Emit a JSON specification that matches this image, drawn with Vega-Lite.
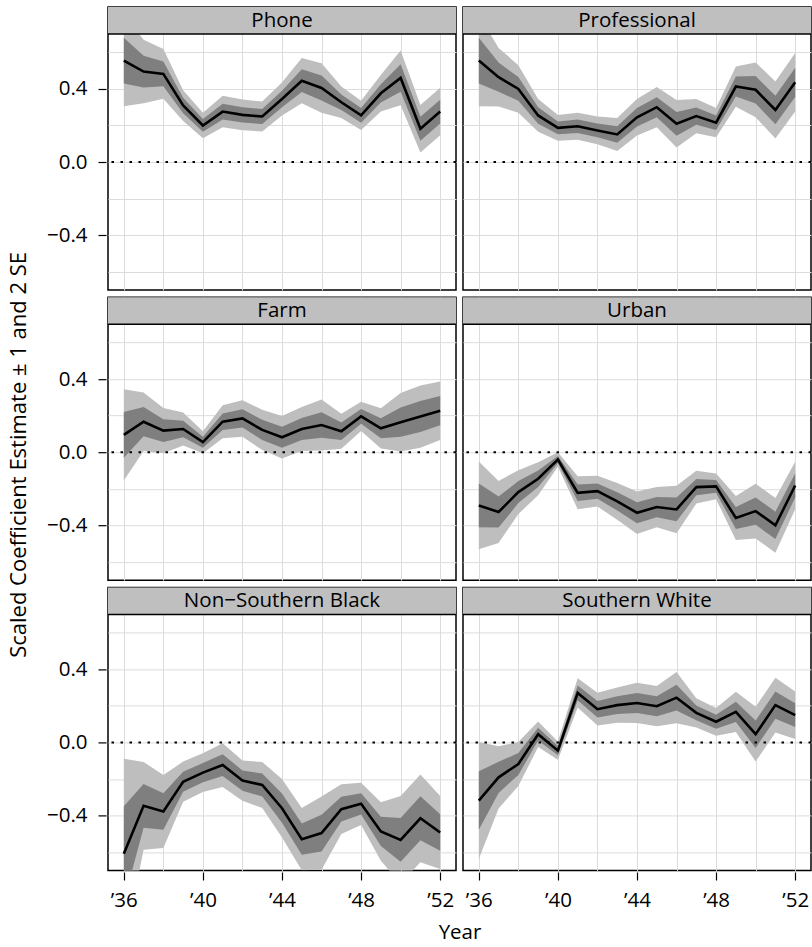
{
  "$schema": "https://vega.github.io/schema/vega-lite/v6.json",
  "background": "white",
  "padding": {"left": 8, "top": 6, "right": 2, "bottom": 5},
  "title": {"text": "Scaled Coefficient Estimate ± 1 and 2 SE", "orient": "left", "anchor": "middle", "fontSize": 22, "fontWeight": "normal", "color": "black", "font": "Open Sans", "offset": 15, "dx": 20},
  "config": {
    "font": "Open Sans",
    "view": {"stroke": "black", "strokeWidth": 1.5},
    "axis": {"labelColor": "black", "titleColor": "black", "titleFontWeight": "normal", "labelFontSize": 20.5, "titleFontSize": 20.5}
  },
  "data": {"values": [
    {"panel": "Phone", "year": 1936, "est": 0.555, "lo2": 0.305, "lo1": 0.43, "hi1": 0.68, "hi2": 0.805},
    {"panel": "Phone", "year": 1937, "est": 0.495, "lo2": 0.321, "lo1": 0.408, "hi1": 0.582, "hi2": 0.669},
    {"panel": "Phone", "year": 1938, "est": 0.482, "lo2": 0.346, "lo1": 0.414, "hi1": 0.55, "hi2": 0.618},
    {"panel": "Phone", "year": 1939, "est": 0.309, "lo2": 0.225, "lo1": 0.267, "hi1": 0.351, "hi2": 0.393},
    {"panel": "Phone", "year": 1940, "est": 0.2, "lo2": 0.13, "lo1": 0.165, "hi1": 0.235, "hi2": 0.27},
    {"panel": "Phone", "year": 1941, "est": 0.276, "lo2": 0.19, "lo1": 0.233, "hi1": 0.319, "hi2": 0.362},
    {"panel": "Phone", "year": 1942, "est": 0.258, "lo2": 0.174, "lo1": 0.216, "hi1": 0.3, "hi2": 0.342},
    {"panel": "Phone", "year": 1943, "est": 0.249, "lo2": 0.167, "lo1": 0.208, "hi1": 0.29, "hi2": 0.331},
    {"panel": "Phone", "year": 1944, "est": 0.345, "lo2": 0.255, "lo1": 0.3, "hi1": 0.39, "hi2": 0.435},
    {"panel": "Phone", "year": 1945, "est": 0.445, "lo2": 0.321, "lo1": 0.383, "hi1": 0.507, "hi2": 0.569},
    {"panel": "Phone", "year": 1946, "est": 0.405, "lo2": 0.269, "lo1": 0.337, "hi1": 0.473, "hi2": 0.541},
    {"panel": "Phone", "year": 1947, "est": 0.327, "lo2": 0.241, "lo1": 0.284, "hi1": 0.37, "hi2": 0.413},
    {"panel": "Phone", "year": 1948, "est": 0.255, "lo2": 0.175, "lo1": 0.215, "hi1": 0.295, "hi2": 0.335},
    {"panel": "Phone", "year": 1949, "est": 0.376, "lo2": 0.276, "lo1": 0.326, "hi1": 0.426, "hi2": 0.476},
    {"panel": "Phone", "year": 1950, "est": 0.46, "lo2": 0.31, "lo1": 0.385, "hi1": 0.535, "hi2": 0.61},
    {"panel": "Phone", "year": 1951, "est": 0.182, "lo2": 0.052, "lo1": 0.117, "hi1": 0.247, "hi2": 0.312},
    {"panel": "Phone", "year": 1952, "est": 0.276, "lo2": 0.146, "lo1": 0.211, "hi1": 0.341, "hi2": 0.406},

    {"panel": "Professional", "year": 1936, "est": 0.555, "lo2": 0.305, "lo1": 0.43, "hi1": 0.68, "hi2": 0.805},
    {"panel": "Professional", "year": 1937, "est": 0.464, "lo2": 0.304, "lo1": 0.384, "hi1": 0.544, "hi2": 0.624},
    {"panel": "Professional", "year": 1938, "est": 0.4, "lo2": 0.27, "lo1": 0.335, "hi1": 0.465, "hi2": 0.53},
    {"panel": "Professional", "year": 1939, "est": 0.255, "lo2": 0.165, "lo1": 0.21, "hi1": 0.3, "hi2": 0.345},
    {"panel": "Professional", "year": 1940, "est": 0.187, "lo2": 0.117, "lo1": 0.152, "hi1": 0.222, "hi2": 0.257},
    {"panel": "Professional", "year": 1941, "est": 0.196, "lo2": 0.122, "lo1": 0.159, "hi1": 0.233, "hi2": 0.27},
    {"panel": "Professional", "year": 1942, "est": 0.173, "lo2": 0.097, "lo1": 0.135, "hi1": 0.211, "hi2": 0.249},
    {"panel": "Professional", "year": 1943, "est": 0.151, "lo2": 0.061, "lo1": 0.106, "hi1": 0.196, "hi2": 0.241},
    {"panel": "Professional", "year": 1944, "est": 0.245, "lo2": 0.145, "lo1": 0.195, "hi1": 0.295, "hi2": 0.345},
    {"panel": "Professional", "year": 1945, "est": 0.3, "lo2": 0.19, "lo1": 0.245, "hi1": 0.355, "hi2": 0.41},
    {"panel": "Professional", "year": 1946, "est": 0.209, "lo2": 0.079, "lo1": 0.144, "hi1": 0.274, "hi2": 0.339},
    {"panel": "Professional", "year": 1947, "est": 0.251, "lo2": 0.157, "lo1": 0.204, "hi1": 0.298, "hi2": 0.345},
    {"panel": "Professional", "year": 1948, "est": 0.215, "lo2": 0.135, "lo1": 0.175, "hi1": 0.255, "hi2": 0.295},
    {"panel": "Professional", "year": 1949, "est": 0.413, "lo2": 0.303, "lo1": 0.358, "hi1": 0.468, "hi2": 0.523},
    {"panel": "Professional", "year": 1950, "est": 0.395, "lo2": 0.245, "lo1": 0.32, "hi1": 0.47, "hi2": 0.545},
    {"panel": "Professional", "year": 1951, "est": 0.285, "lo2": 0.129, "lo1": 0.207, "hi1": 0.363, "hi2": 0.441},
    {"panel": "Professional", "year": 1952, "est": 0.436, "lo2": 0.276, "lo1": 0.356, "hi1": 0.516, "hi2": 0.596},

    {"panel": "Farm", "year": 1936, "est": 0.095, "lo2": -0.155, "lo1": -0.03, "hi1": 0.22, "hi2": 0.345},
    {"panel": "Farm", "year": 1937, "est": 0.167, "lo2": 0.007, "lo1": 0.087, "hi1": 0.247, "hi2": 0.327},
    {"panel": "Farm", "year": 1938, "est": 0.118, "lo2": -0.006, "lo1": 0.056, "hi1": 0.18, "hi2": 0.242},
    {"panel": "Farm", "year": 1939, "est": 0.127, "lo2": 0.037, "lo1": 0.082, "hi1": 0.172, "hi2": 0.217},
    {"panel": "Farm", "year": 1940, "est": 0.055, "lo2": -0.005, "lo1": 0.025, "hi1": 0.085, "hi2": 0.115},
    {"panel": "Farm", "year": 1941, "est": 0.167, "lo2": 0.077, "lo1": 0.122, "hi1": 0.212, "hi2": 0.257},
    {"panel": "Farm", "year": 1942, "est": 0.185, "lo2": 0.085, "lo1": 0.135, "hi1": 0.235, "hi2": 0.285},
    {"panel": "Farm", "year": 1943, "est": 0.122, "lo2": 0.012, "lo1": 0.067, "hi1": 0.177, "hi2": 0.232},
    {"panel": "Farm", "year": 1944, "est": 0.082, "lo2": -0.034, "lo1": 0.024, "hi1": 0.14, "hi2": 0.198},
    {"panel": "Farm", "year": 1945, "est": 0.127, "lo2": 0.007, "lo1": 0.067, "hi1": 0.187, "hi2": 0.247},
    {"panel": "Farm", "year": 1946, "est": 0.149, "lo2": 0.009, "lo1": 0.079, "hi1": 0.219, "hi2": 0.289},
    {"panel": "Farm", "year": 1947, "est": 0.115, "lo2": 0.019, "lo1": 0.067, "hi1": 0.163, "hi2": 0.211},
    {"panel": "Farm", "year": 1948, "est": 0.196, "lo2": 0.116, "lo1": 0.156, "hi1": 0.236, "hi2": 0.276},
    {"panel": "Farm", "year": 1949, "est": 0.131, "lo2": 0.021, "lo1": 0.076, "hi1": 0.186, "hi2": 0.241},
    {"panel": "Farm", "year": 1950, "est": 0.164, "lo2": 0.004, "lo1": 0.084, "hi1": 0.244, "hi2": 0.324},
    {"panel": "Farm", "year": 1951, "est": 0.195, "lo2": 0.025, "lo1": 0.11, "hi1": 0.28, "hi2": 0.365},
    {"panel": "Farm", "year": 1952, "est": 0.227, "lo2": 0.067, "lo1": 0.147, "hi1": 0.307, "hi2": 0.387},

    {"panel": "Urban", "year": 1936, "est": -0.291, "lo2": -0.531, "lo1": -0.411, "hi1": -0.171, "hi2": -0.051},
    {"panel": "Urban", "year": 1937, "est": -0.327, "lo2": -0.497, "lo1": -0.412, "hi1": -0.242, "hi2": -0.157},
    {"panel": "Urban", "year": 1938, "est": -0.218, "lo2": -0.338, "lo1": -0.278, "hi1": -0.158, "hi2": -0.098},
    {"panel": "Urban", "year": 1939, "est": -0.145, "lo2": -0.235, "lo1": -0.19, "hi1": -0.1, "hi2": -0.055},
    {"panel": "Urban", "year": 1940, "est": -0.04, "lo2": -0.08, "lo1": -0.06, "hi1": -0.02, "hi2": 0.0},
    {"panel": "Urban", "year": 1941, "est": -0.222, "lo2": -0.312, "lo1": -0.267, "hi1": -0.177, "hi2": -0.132},
    {"panel": "Urban", "year": 1942, "est": -0.213, "lo2": -0.297, "lo1": -0.255, "hi1": -0.171, "hi2": -0.129},
    {"panel": "Urban", "year": 1943, "est": -0.269, "lo2": -0.369, "lo1": -0.319, "hi1": -0.219, "hi2": -0.169},
    {"panel": "Urban", "year": 1944, "est": -0.331, "lo2": -0.447, "lo1": -0.389, "hi1": -0.273, "hi2": -0.215},
    {"panel": "Urban", "year": 1945, "est": -0.3, "lo2": -0.41, "lo1": -0.355, "hi1": -0.245, "hi2": -0.19},
    {"panel": "Urban", "year": 1946, "est": -0.313, "lo2": -0.443, "lo1": -0.378, "hi1": -0.248, "hi2": -0.183},
    {"panel": "Urban", "year": 1947, "est": -0.191, "lo2": -0.281, "lo1": -0.236, "hi1": -0.146, "hi2": -0.101},
    {"panel": "Urban", "year": 1948, "est": -0.187, "lo2": -0.257, "lo1": -0.222, "hi1": -0.152, "hi2": -0.117},
    {"panel": "Urban", "year": 1949, "est": -0.36, "lo2": -0.48, "lo1": -0.42, "hi1": -0.3, "hi2": -0.24},
    {"panel": "Urban", "year": 1950, "est": -0.322, "lo2": -0.472, "lo1": -0.397, "hi1": -0.247, "hi2": -0.172},
    {"panel": "Urban", "year": 1951, "est": -0.4, "lo2": -0.55, "lo1": -0.475, "hi1": -0.325, "hi2": -0.25},
    {"panel": "Urban", "year": 1952, "est": -0.182, "lo2": -0.312, "lo1": -0.247, "hi1": -0.117, "hi2": -0.052},

    {"panel": "Non−Southern Black", "year": 1936, "est": -0.609, "lo2": -1.129, "lo1": -0.869, "hi1": -0.349, "hi2": -0.089},
    {"panel": "Non−Southern Black", "year": 1937, "est": -0.347, "lo2": -0.587, "lo1": -0.467, "hi1": -0.227, "hi2": -0.107},
    {"panel": "Non−Southern Black", "year": 1938, "est": -0.378, "lo2": -0.578, "lo1": -0.478, "hi1": -0.278, "hi2": -0.178},
    {"panel": "Non−Southern Black", "year": 1939, "est": -0.215, "lo2": -0.325, "lo1": -0.27, "hi1": -0.16, "hi2": -0.105},
    {"panel": "Non−Southern Black", "year": 1940, "est": -0.165, "lo2": -0.271, "lo1": -0.218, "hi1": -0.112, "hi2": -0.059},
    {"panel": "Non−Southern Black", "year": 1941, "est": -0.124, "lo2": -0.244, "lo1": -0.184, "hi1": -0.064, "hi2": -0.004},
    {"panel": "Non−Southern Black", "year": 1942, "est": -0.209, "lo2": -0.319, "lo1": -0.264, "hi1": -0.154, "hi2": -0.099},
    {"panel": "Non−Southern Black", "year": 1943, "est": -0.233, "lo2": -0.359, "lo1": -0.296, "hi1": -0.17, "hi2": -0.107},
    {"panel": "Non−Southern Black", "year": 1944, "est": -0.36, "lo2": -0.52, "lo1": -0.44, "hi1": -0.28, "hi2": -0.2},
    {"panel": "Non−Southern Black", "year": 1945, "est": -0.529, "lo2": -0.699, "lo1": -0.614, "hi1": -0.444, "hi2": -0.359},
    {"panel": "Non−Southern Black", "year": 1946, "est": -0.496, "lo2": -0.696, "lo1": -0.596, "hi1": -0.396, "hi2": -0.296},
    {"panel": "Non−Southern Black", "year": 1947, "est": -0.365, "lo2": -0.501, "lo1": -0.433, "hi1": -0.297, "hi2": -0.229},
    {"panel": "Non−Southern Black", "year": 1948, "est": -0.336, "lo2": -0.452, "lo1": -0.394, "hi1": -0.278, "hi2": -0.22},
    {"panel": "Non−Southern Black", "year": 1949, "est": -0.487, "lo2": -0.647, "lo1": -0.567, "hi1": -0.407, "hi2": -0.327},
    {"panel": "Non−Southern Black", "year": 1950, "est": -0.533, "lo2": -0.773, "lo1": -0.653, "hi1": -0.413, "hi2": -0.293},
    {"panel": "Non−Southern Black", "year": 1951, "est": -0.415, "lo2": -0.655, "lo1": -0.535, "hi1": -0.295, "hi2": -0.175},
    {"panel": "Non−Southern Black", "year": 1952, "est": -0.493, "lo2": -0.693, "lo1": -0.593, "hi1": -0.393, "hi2": -0.293},

    {"panel": "Southern White", "year": 1936, "est": -0.318, "lo2": -0.638, "lo1": -0.478, "hi1": -0.158, "hi2": 0.002},
    {"panel": "Southern White", "year": 1937, "est": -0.191, "lo2": -0.361, "lo1": -0.276, "hi1": -0.106, "hi2": -0.021},
    {"panel": "Southern White", "year": 1938, "est": -0.118, "lo2": -0.238, "lo1": -0.178, "hi1": -0.058, "hi2": 0.002},
    {"panel": "Southern White", "year": 1939, "est": 0.045, "lo2": -0.025, "lo1": 0.01, "hi1": 0.08, "hi2": 0.115},
    {"panel": "Southern White", "year": 1940, "est": -0.045, "lo2": -0.095, "lo1": -0.07, "hi1": -0.02, "hi2": 0.005},
    {"panel": "Southern White", "year": 1941, "est": 0.271, "lo2": 0.191, "lo1": 0.231, "hi1": 0.311, "hi2": 0.351},
    {"panel": "Southern White", "year": 1942, "est": 0.182, "lo2": 0.092, "lo1": 0.137, "hi1": 0.227, "hi2": 0.272},
    {"panel": "Southern White", "year": 1943, "est": 0.204, "lo2": 0.108, "lo1": 0.156, "hi1": 0.252, "hi2": 0.3},
    {"panel": "Southern White", "year": 1944, "est": 0.216, "lo2": 0.106, "lo1": 0.161, "hi1": 0.271, "hi2": 0.326},
    {"panel": "Southern White", "year": 1945, "est": 0.198, "lo2": 0.088, "lo1": 0.143, "hi1": 0.253, "hi2": 0.308},
    {"panel": "Southern White", "year": 1946, "est": 0.245, "lo2": 0.105, "lo1": 0.175, "hi1": 0.315, "hi2": 0.385},
    {"panel": "Southern White", "year": 1947, "est": 0.162, "lo2": 0.082, "lo1": 0.122, "hi1": 0.202, "hi2": 0.242},
    {"panel": "Southern White", "year": 1948, "est": 0.113, "lo2": 0.037, "lo1": 0.075, "hi1": 0.151, "hi2": 0.189},
    {"panel": "Southern White", "year": 1949, "est": 0.167, "lo2": 0.057, "lo1": 0.112, "hi1": 0.222, "hi2": 0.277},
    {"panel": "Southern White", "year": 1950, "est": 0.045, "lo2": -0.105, "lo1": -0.03, "hi1": 0.12, "hi2": 0.195},
    {"panel": "Southern White", "year": 1951, "est": 0.204, "lo2": 0.054, "lo1": 0.129, "hi1": 0.279, "hi2": 0.354},
    {"panel": "Southern White", "year": 1952, "est": 0.149, "lo2": 0.019, "lo1": 0.084, "hi1": 0.214, "hi2": 0.279}
  ]},
  "facet": {
    "field": "panel", "type": "nominal",
    "sort": ["Phone", "Professional", "Farm", "Urban", "Non−Southern Black", "Southern White"],
    "header": {"labels": false, "labelExpr": "''", "labelFontSize": 0, "labelPadding": 0, "title": "Year", "titleOrient": "bottom", "titleFontSize": 20.5, "titleFontWeight": "normal", "titleColor": "black", "titleFont": "Open Sans", "titlePadding": 12}
  },
  "columns": 2,
  "spacing": {"row": 5.2, "column": 3},
  "spec": {
    "width": 348,
    "height": 283,
    "layer": [
      {
        "mark": {"type": "area", "color": "#bebebe", "opacity": 1, "clip": true},
        "encoding": {
          "x": {"field": "year", "type": "quantitative",
            "scale": {"domain": [1935.2, 1952.8], "nice": false, "zero": false},
            "axis": {
              "title": null,
              "values": [1936, 1938, 1940, 1942, 1944, 1946, 1948, 1950, 1952],
              "grid": true, "gridColor": "#dcdcdc", "gridWidth": 1,
              "domain": false,
              "tickSize": 8, "tickColor": "black", "tickWidth": 1.2,
              "tickOpacity": {"condition": {"test": "datum.value % 4 == 0", "value": 1}, "value": 0},
              "labelExpr": "datum.value % 4 == 0 ? '’' + slice(toString(datum.value), 2) : ''",
              "labelPadding": 10, "labelFlush": false, "labelOverlap": false
            }
          },
          "y": {"field": "lo2", "type": "quantitative",
            "scale": {"domain": [-0.7, 0.848], "nice": false, "zero": false},
            "axis": {
              "title": null,
              "values": [-0.6, -0.4, -0.2, 0, 0.2, 0.4, 0.6],
              "grid": true, "gridColor": "#dcdcdc", "gridWidth": 1,
              "domain": false,
              "tickSize": 8, "tickColor": "black", "tickWidth": 1.2,
              "tickOpacity": {"condition": {"test": "abs(datum.value) < 0.01 || abs(abs(datum.value) - 0.4) < 0.01", "value": 1}, "value": 0},
              "labelExpr": "abs(datum.value) < 0.01 ? '0.0' : abs(abs(datum.value) - 0.4) < 0.01 ? (datum.value < 0 ? '−0.4' : '0.4') : ''",
              "labelPadding": 11, "labelOverlap": false, "labelFlush": false
            }
          },
          "y2": {"field": "hi2"}
        }
      },
      {
        "mark": {"type": "area", "color": "#7f7f7f", "opacity": 1, "clip": true},
        "encoding": {
          "x": {"field": "year", "type": "quantitative"},
          "y": {"field": "lo1", "type": "quantitative"},
          "y2": {"field": "hi1"}
        }
      },
      {
        "mark": {"type": "line", "color": "black", "strokeWidth": 2.6, "clip": true},
        "encoding": {
          "x": {"field": "year", "type": "quantitative"},
          "y": {"field": "est", "type": "quantitative"}
        }
      },
      {
        "transform": [{"filter": "datum.year == 1936"}],
        "mark": {"type": "rule", "color": "black", "strokeWidth": 2, "strokeDash": [2.5, 6.5]},
        "encoding": {"y": {"datum": 0}}
      },
      {
        "transform": [{"filter": "datum.year == 1936"}],
        "mark": {"type": "rect", "color": "#bfbfbf", "opacity": 1},
        "encoding": {"y": {"datum": 0.7}, "y2": {"datum": 0.848}}
      },
      {
        "transform": [{"filter": "datum.year == 1936"}],
        "mark": {"type": "rule", "color": "black", "strokeWidth": 1.5},
        "encoding": {"y": {"datum": 0.7}}
      },
      {
        "transform": [{"filter": "datum.year == 1936"}],
        "mark": {"type": "text", "fontSize": 20.5, "baseline": "middle", "align": "center", "color": "black"},
        "encoding": {"y": {"datum": 0.774}, "text": {"field": "panel"}}
      }
    ]
  }
}
